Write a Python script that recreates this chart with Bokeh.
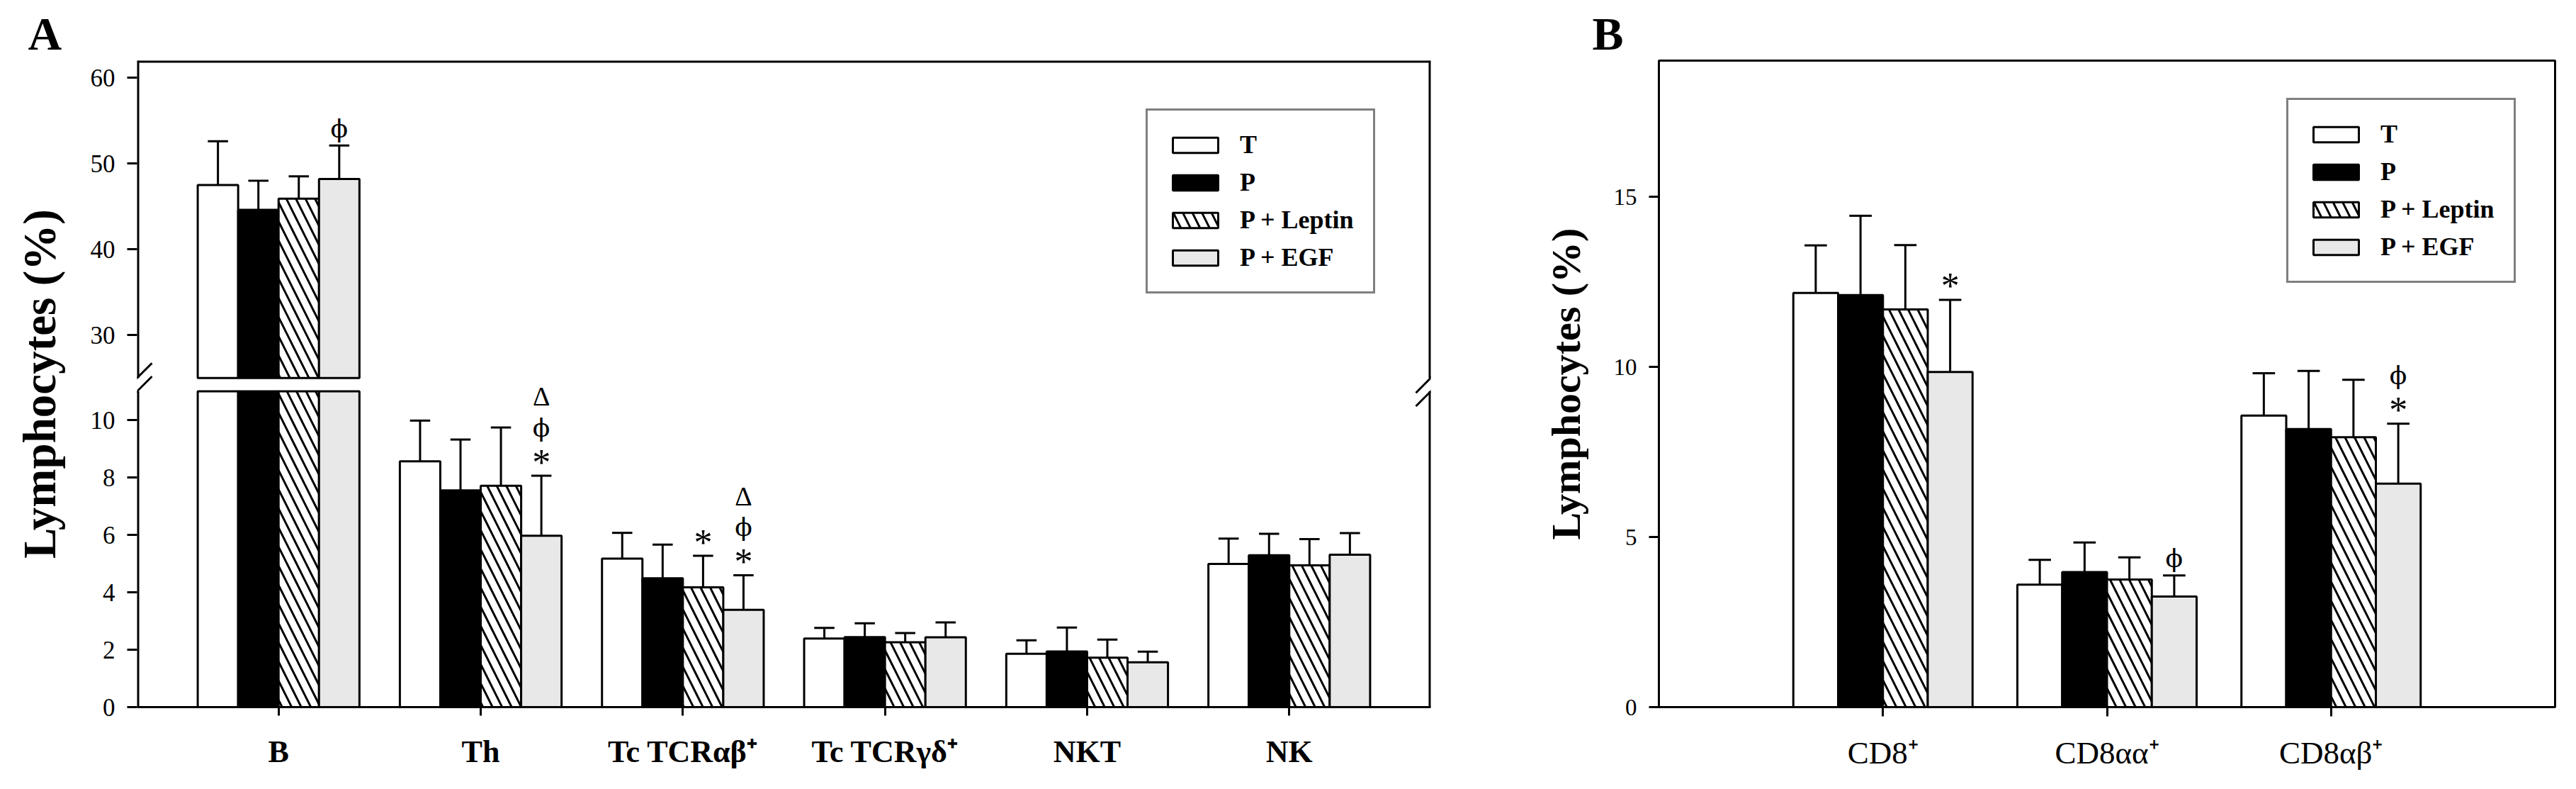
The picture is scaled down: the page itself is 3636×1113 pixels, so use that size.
from bokeh.plotting import figure
from bokeh.models import (ColumnDataSource, FactorRange, Range1d, FixedTicker,
                          Legend, LegendItem)
from bokeh.transform import dodge
from bokeh.layouts import row
from bokeh.embed import file_html
from bokeh.resources import INLINE

# ---------------- data ----------------
series = ["T", "P", "P + Leptin", "P + EGF"]

# Panel A
cats_a = ["B", "Th", "Tc TCRαβ⁺", "Tc TCRγδ⁺", "NKT", "NK"]
a_mean_T = [47.5, 8.56, 5.17, 2.39, 1.86, 4.99]
a_mean_P = [44.6, 7.55, 4.49, 2.44, 1.94, 5.29]
a_mean_L = [45.9, 7.71, 4.17, 2.26, 1.72, 4.94]
a_mean_E = [48.2, 5.97, 3.39, 2.43, 1.56, 5.31]
a_sd_T = [5.1, 1.42, 0.90, 0.37, 0.47, 0.88]
a_sd_P = [3.4, 1.77, 1.17, 0.48, 0.83, 0.75]
a_sd_L = [2.6, 2.03, 1.10, 0.32, 0.63, 0.91]
a_sd_E = [3.9, 2.09, 1.20, 0.52, 0.37, 0.75]
ann_a_cat = ["B", "Th", "Th", "Th", "Tc TCRαβ⁺", "Tc TCRαβ⁺", "Tc TCRαβ⁺", "Tc TCRαβ⁺"]
ann_a_series = ["P + EGF", "P + EGF", "P + EGF", "P + EGF", "P + Leptin", "P + EGF", "P + EGF", "P + EGF"]
ann_a_sym = ["ϕ", "*", "ϕ", "Δ", "*", "*", "ϕ", "Δ"]
ann_a_level = [0, 0, 1, 2, 0, 0, 1, 2]
a_ticks_low = [0, 2, 4, 6, 8, 10]
a_ticks_up = [30, 40, 50, 60]

# Panel B
cats_b = ["CD8⁺", "CD8αα⁺", "CD8αβ⁺"]
b_mean_T = [12.17, 3.60, 8.57]
b_mean_P = [12.11, 3.97, 8.17]
b_mean_L = [11.69, 3.75, 7.93]
b_mean_E = [9.85, 3.25, 6.57]
b_sd_T = [1.40, 0.73, 1.24]
b_sd_P = [2.33, 0.87, 1.71]
b_sd_L = [1.89, 0.65, 1.69]
b_sd_E = [2.12, 0.62, 1.76]
ann_b_cat = ["CD8⁺", "CD8αα⁺", "CD8αβ⁺", "CD8αβ⁺"]
ann_b_series = ["P + EGF", "P + EGF", "P + EGF", "P + EGF"]
ann_b_sym = ["*", "ϕ", "*", "ϕ"]
ann_b_level = [0, 0, 0, 1]
b_ticks = [0, 5, 10, 15]

a_means = [a_mean_T, a_mean_P, a_mean_L, a_mean_E]
a_sds = [a_sd_T, a_sd_P, a_sd_L, a_sd_E]
b_means = [b_mean_T, b_mean_P, b_mean_L, b_mean_E]
b_sds = [b_sd_T, b_sd_P, b_sd_L, b_sd_E]

# ---------------- style / layout ----------------
FONT = "Liberation Serif"
fills = ["white", "black", "white", "#e8e8e8"]
hatches = [None, None, "\\", None]
offsets = [-0.3, -0.1, 0.1, 0.3]
BAR_W = 0.2
CAP = 0.05
SYM_GAP, SYM_STEP = 24, 44
sym_size = {"*": "52px", "ϕ": "36px", "Δ": "38px"}
sym_font = {"*": FONT, "ϕ": "DejaVu Serif", "Δ": FONT}
sym_adj = {"*": 5, "ϕ": 0, "Δ": 0}

BREAK_LO, BREAK_HI, A_TOP = 11, 25, 62
A_FW, A_FH = 1826, 912
A_PAD = 0.2
A_X0 = -A_PAD
A_X1 = len(cats_a) + A_PAD
A_PXU = A_FW / (A_X1 - A_X0)
LOW_PX, UP_PX = 40.5, 12.1
low_end = A_FH / LOW_PX
up_start = A_TOP - A_FH / UP_PX

B_FW, B_FH = 1265, 912
B_PAD = 0.5
B_TOP = 19


def bar_style(i):
    d = dict(fill_color=fills[i], line_color="black", line_width=3)
    if hatches[i]:
        d.update(hatch_pattern=hatches[i], hatch_color="black",
                 hatch_weight=3, hatch_scale=27)
    return d


def style_axis(ax, tick_out, size, bold=False, standoff=17):
    ax.axis_line_width = 3
    ax.axis_line_color = "black"
    ax.major_tick_line_width = 3
    ax.major_tick_line_color = "black"
    ax.major_tick_out = tick_out
    ax.major_tick_in = 0
    ax.minor_tick_out = 0
    ax.minor_tick_in = 0
    ax.major_label_text_font = FONT
    ax.major_label_text_font_size = size
    ax.major_label_text_color = "black"
    ax.major_label_standoff = standoff
    if bold:
        ax.major_label_text_font_style = "bold"


def style_ylabel(ax, size, standoff):
    ax.axis_label = "Lymphocytes (%)"
    ax.axis_label_text_font = FONT
    ax.axis_label_text_font_size = size
    ax.axis_label_text_font_style = "bold"
    ax.axis_label_text_color = "black"
    ax.axis_label_standoff = standoff


def style_title(p, text, offset):
    p.title.text = text
    p.title.align = "left"
    p.title.offset = offset
    p.title.standoff = 0
    p.title.vertical_align = "top"
    p.title.text_font = FONT
    p.title.text_font_size = "66px"
    p.title.text_font_style = "bold"
    p.title.text_color = "black"


def legend_for(renderers, loc):
    lg = Legend(items=[LegendItem(label=s, renderers=[r]) for s, r in zip(series, renderers)],
                location=loc, orientation="vertical")
    lg.border_line_color = "black"
    lg.border_line_width = 3
    lg.background_fill_color = "white"
    lg.background_fill_alpha = 1
    lg.glyph_width = 80
    lg.glyph_height = 27
    lg.label_height = 27
    lg.label_standoff = 23
    lg.spacing = 11
    lg.padding = 27
    lg.margin = 0
    lg.label_text_font = FONT
    lg.label_text_font_size = "36px"
    lg.label_text_font_style = "bold"
    lg.label_text_color = "black"
    return lg


def add_annotations(p, cats, means, sds, a_cat, a_ser, a_sym, a_lvl, hi=None):
    for i, s in enumerate(series):
        rows = [k for k in range(len(a_cat)) if a_ser[k] == s]
        for upper in (False, True):
            sel = []
            for k in rows:
                j = cats.index(a_cat[k])
                is_up = hi is not None and means[i][j] > hi
                if is_up == upper:
                    sel.append((k, j))
            if not sel:
                continue
            src = ColumnDataSource(dict(
                cat=[a_cat[k] for k, j in sel],
                y=[means[i][j] + sds[i][j] for k, j in sel],
                sym=[a_sym[k] for k, j in sel],
                size=[sym_size[a_sym[k]] for k, j in sel],
                font=[sym_font[a_sym[k]] for k, j in sel],
                yoff=[-(SYM_GAP + SYM_STEP * a_lvl[k]) + sym_adj[a_sym[k]] for k, j in sel],
            ))
            kw = dict(y_range_name="upper") if upper else {}
            p.text(x=dodge("cat", offsets[i], range=p.x_range), y="y", text="sym",
                   y_offset="yoff", source=src, text_align="center",
                   text_baseline="middle", text_font="font",
                   text_font_size="size", text_color="black", **kw)


# ---------------- Panel A ----------------
pA = figure(x_range=FactorRange(factors=cats_a, range_padding=A_PAD,
                                range_padding_units="absolute"),
            y_range=Range1d(0, low_end),
            frame_width=A_FW, frame_height=A_FH,
            min_border_left=193, min_border_right=30,
            min_border_top=85, min_border_bottom=95,
            output_backend="svg", toolbar_location=None, tools="")
pA.extra_y_ranges = {"upper": Range1d(up_start, A_TOP)}
pA.outline_line_color = None
pA.xgrid.visible = False
pA.ygrid.visible = False
pA.background_fill_color = "white"
pA.border_fill_color = "white"

low_renderers = []
for i, s in enumerate(series):
    m, sd = a_means[i], a_sds[i]
    x = dodge("cat", offsets[i], range=pA.x_range)
    src_low = ColumnDataSource(dict(cat=cats_a, top=[min(v, BREAK_LO) for v in m]))
    r = pA.vbar(x=x, top="top", bottom=0, width=BAR_W, source=src_low, **bar_style(i))
    low_renderers.append(r)
    hi_idx = [j for j in range(len(cats_a)) if m[j] > BREAK_HI]
    lo_idx = [j for j in range(len(cats_a)) if m[j] <= BREAK_LO]
    src_hi = ColumnDataSource(dict(cat=[cats_a[j] for j in hi_idx],
                                   mean=[m[j] for j in hi_idx],
                                   err=[m[j] + sd[j] for j in hi_idx]))
    src_lo = ColumnDataSource(dict(cat=[cats_a[j] for j in lo_idx],
                                   mean=[m[j] for j in lo_idx],
                                   err=[m[j] + sd[j] for j in lo_idx]))
    pA.vbar(x=x, top="mean", bottom=BREAK_HI, width=BAR_W, source=src_hi,
            y_range_name="upper", **bar_style(i))
    for src, kw in ((src_lo, {}), (src_hi, dict(y_range_name="upper"))):
        pA.segment(x0=x, y0="mean", x1=x, y1="err", source=src,
                   line_color="black", line_width=3, **kw)
        pA.segment(x0=dodge("cat", offsets[i] - CAP, range=pA.x_range), y0="err",
                   x1=dodge("cat", offsets[i] + CAP, range=pA.x_range), y1="err",
                   source=src, line_color="black", line_width=3, **kw)

add_annotations(pA, cats_a, a_means, a_sds, ann_a_cat, ann_a_series, ann_a_sym,
                ann_a_level, hi=BREAK_HI)

# frame spines with the axis break (drawn at the range edges; half falls inside the frame)
spine = dict(line_color="black", line_width=6, line_cap="butt")
for xe in (A_X0, A_X1):
    pA.segment(x0=[xe], y0=[0], x1=[xe], y1=[BREAK_LO], **spine)
    pA.segment(x0=[xe], y0=[BREAK_HI], x1=[xe], y1=[A_TOP], y_range_name="upper", **spine)
pA.segment(x0=[A_X0], y0=[A_TOP], x1=[A_X1], y1=[A_TOP], y_range_name="upper", **spine)

# break marks
for xe in (A_X0, A_X1):
    pA.segment(x0=[xe - 21 / A_PXU], y0=[BREAK_HI - 21 / UP_PX],
               x1=[xe + 21 / A_PXU], y1=[BREAK_HI + 21 / UP_PX],
               y_range_name="upper", line_color="black", line_width=3)
    pA.segment(x0=[xe - 21 / A_PXU], y0=[BREAK_LO - 21 / LOW_PX],
               x1=[xe + 21 / A_PXU], y1=[BREAK_LO + 21 / LOW_PX],
               line_color="black", line_width=3)

# left axis: lower ticks plus the upper segment's ticks placed through the upper scale
ax_low = pA.yaxis[0]
up_pos = [(v - up_start) * UP_PX / LOW_PX for v in a_ticks_up]
ax_low.ticker = FixedTicker(ticks=a_ticks_low + up_pos)
ax_low.major_label_overrides = {pos: str(v) for pos, v in zip(up_pos, a_ticks_up)}
style_axis(ax_low, 14, "35px")
ax_low.axis_line_color = None
style_ylabel(ax_low, "65px", 33)

xa = pA.xaxis[0]
style_axis(xa, 12, "44px", bold=True, standoff=26)

style_title(pA, "A", -154)
pA.add_layout(legend_for(low_renderers, (1424, 583)))

# ---------------- Panel B ----------------
pB = figure(x_range=FactorRange(factors=cats_b, range_padding=B_PAD,
                                range_padding_units="absolute"),
            y_range=Range1d(0, B_TOP),
            frame_width=B_FW, frame_height=B_FH,
            min_border_left=292, min_border_right=14,
            min_border_top=82, min_border_bottom=98,
            output_backend="svg", toolbar_location=None, tools="")
pB.outline_line_color = "black"
pB.outline_line_width = 3
pB.xgrid.visible = False
pB.ygrid.visible = False
pB.background_fill_color = "white"
pB.border_fill_color = "white"

b_renderers = []
for i, s in enumerate(series):
    m, sd = b_means[i], b_sds[i]
    x = dodge("cat", offsets[i], range=pB.x_range)
    src = ColumnDataSource(dict(cat=cats_b, mean=m, err=[a + b for a, b in zip(m, sd)]))
    r = pB.vbar(x=x, top="mean", bottom=0, width=BAR_W, source=src, **bar_style(i))
    b_renderers.append(r)
    pB.segment(x0=x, y0="mean", x1=x, y1="err", source=src, line_color="black", line_width=3)
    pB.segment(x0=dodge("cat", offsets[i] - CAP, range=pB.x_range), y0="err",
               x1=dodge("cat", offsets[i] + CAP, range=pB.x_range), y1="err",
               source=src, line_color="black", line_width=3)

add_annotations(pB, cats_b, b_means, b_sds, ann_b_cat, ann_b_series, ann_b_sym, ann_b_level)

yb = pB.yaxis[0]
yb.ticker = FixedTicker(ticks=b_ticks)
style_axis(yb, 14, "33px")
style_ylabel(yb, "58px", 32)

xb = pB.xaxis[0]
style_axis(xb, 13, "45px", standoff=26)

style_title(pB, "B", -94)
pB.add_layout(legend_for(b_renderers, (886, 598)))

layout = row(pA, pB)
open("out.html", "w").write(file_html(layout, INLINE))
